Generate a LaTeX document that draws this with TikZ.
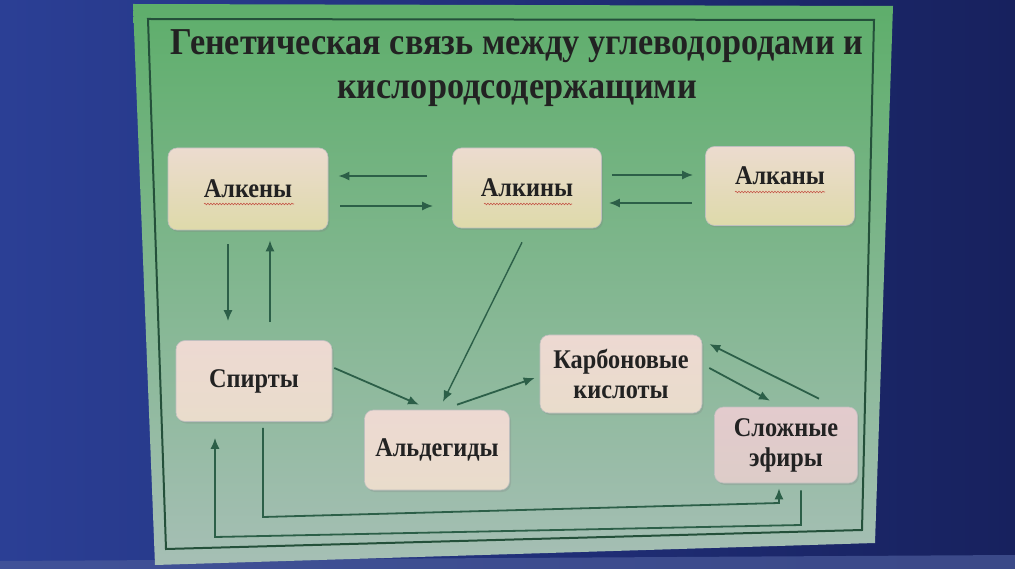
\documentclass[tikz,border=0pt]{standalone}
\usepackage{fontspec}
\setmainfont{Liberation Serif}
\newfontfamily\titlefont[FakeStretch=0.9]{Liberation Serif}
\newfontfamily\boxfont[FakeStretch=0.9]{Liberation Serif}
\usetikzlibrary{shadows,decorations.pathmorphing,arrows.meta}
\definecolor{bgL}{HTML}{2B3F95}
\definecolor{bgR}{HTML}{17215E}
\definecolor{slideT}{HTML}{5EAE6B}
\definecolor{slideM}{HTML}{7DBA96}
\definecolor{slideB}{HTML}{A6BFB5}
\definecolor{frame}{HTML}{24503A}
\definecolor{arr}{HTML}{2C5F48}
\definecolor{ink}{HTML}{222222}
\definecolor{yT}{HTML}{ECDBCF}
\definecolor{yB}{HTML}{DEDAAA}
\definecolor{pT}{HTML}{EDD9D2}
\definecolor{pB}{HTML}{E9DCCB}
\definecolor{sT}{HTML}{E3CBCD}
\definecolor{sB}{HTML}{DDCCC8}
\definecolor{band}{HTML}{4A5A9A}
\tikzset{
  box/.style={rounded corners=9pt, draw=black!25, line width=0.6pt,
    drop shadow={opacity=0.25, shadow xshift=1.5pt, shadow yshift=-2pt},
    text=ink, font=\boxfont\fontsize{27}{30}\selectfont\bfseries, align=center,
    minimum width=#1},
  ybox/.style={box=#1, top color=yT, bottom color=yB},
  pbox/.style={box=#1, top color=pT, bottom color=pB},
  sbox/.style={box=#1, top color=sT, bottom color=sB},
  con/.style={draw=arr, line width=1.8pt, -{Latex[length=11pt,width=9pt]}},
  squig/.style={draw=red!70!black, opacity=0.6, line width=0.6pt,
    decorate, decoration={snake, amplitude=0.8pt, segment length=3pt}}
}
\begin{document}
\begin{tikzpicture}[x=1pt,y=-1pt]
\useasboundingbox (0,0) rectangle (1015,569);
% screen background
\shade[left color=bgL, right color=bgR] (0,0) rectangle (1015,569);
\fill[band, opacity=0.7] (0,561) -- (1015,555) -- (1015,569) -- (0,569) -- cycle;
% slide
\shade[top color=slideT, middle color=slideM, bottom color=slideB] (133,4) -- (893,6) -- (875,543) -- (155,565) -- cycle;
% inner frame
\draw[frame, line width=2pt] (148,19) -- (874,20) -- (862,530) -- (166,549) -- cycle;
% title
\node[text=ink, font=\titlefont\fontsize{38}{44}\selectfont\bfseries, align=center] (title) at (517,68)
  {Генетическая связь между углеводородами и\\кислородсодержащими};
% boxes
\node[ybox=160pt, minimum height=82pt] (alkeny) at (248,189) {Алкены};
\node[ybox=149pt, minimum height=80pt] (alkiny) at (527,188) {Алкины};
\node[ybox=149pt, minimum height=79pt] (alkany) at (780,186) {\raisebox{20pt}{Алканы}};
\node[pbox=156pt, minimum height=81pt] (spirty) at (254,381) {Спирты};
\node[pbox=145pt, minimum height=80pt] (aldeg) at (437,450) {Альдегиды};
\node[pbox=162pt, minimum height=78pt] (karb) at (621,374) {Карбоновые\\кислоты};
\node[sbox=143pt, minimum height=76pt] (slozh) at (786,445) {Сложные\\эфиры};
% spell-check squiggles
\draw[squig] (204,204) -- (294,204);
\draw[squig] (484,204) -- (572,204);
\draw[squig] (735,192) -- (825,192);
% connectors
\draw[con] ([xshift=-25pt,yshift=12pt]alkiny.west) -- ([xshift=10pt,yshift=13pt]alkeny.east);
\draw[con] ([xshift=12pt,yshift=-17pt]alkeny.east) -- ([xshift=-19pt,yshift=-18pt]alkiny.west);
\draw[con] ([xshift=10pt,yshift=13pt]alkiny.east) -- ([xshift=-12pt,yshift=11pt]alkany.west);
\draw[con] ([xshift=-13pt,yshift=-17pt]alkany.west) -- ([xshift=7pt,yshift=-15pt]alkiny.east);
\draw[con] ([xshift=-20pt,yshift=-14pt]alkeny.south) -- ([xshift=-26pt,yshift=19pt]spirty.north);
\draw[con] ([xshift=16pt,yshift=18pt]spirty.north) -- ([xshift=22pt,yshift=-10pt]alkeny.south);
\draw[con, line width=1.4pt] ([xshift=-5pt,yshift=-14pt]alkiny.south) -- ([xshift=6pt,yshift=8pt]aldeg.north);
\draw[con] ([xshift=2pt,yshift=13pt]spirty.east) -- ([xshift=-18pt,yshift=5pt]aldeg.north);
\draw[con] ([xshift=20pt,yshift=5pt]aldeg.north) -- ([xshift=-5pt,yshift=-4pt]karb.west);
\draw[con] ([xshift=7pt,yshift=6pt]karb.east) -- ([xshift=-16pt,yshift=6pt]slozh.north);
\draw[con] ([xshift=33pt,yshift=8pt]slozh.north) -- ([xshift=7pt,yshift=30pt]karb.east);
\coordinate (a1) at (263,517);
\coordinate (a2) at (779,503);
\draw[con] ([xshift=9pt,yshift=-6pt]spirty.south) -- (a1) -- (a2) -- ([xshift=-7pt,yshift=-5pt]slozh.south);
\coordinate (b1) at (801,525);
\coordinate (b2) at (215,537);
\draw[con] ([xshift=15pt,yshift=-7pt]slozh.south) -- (b1) -- (b2) -- ([xshift=-39pt,yshift=-16pt]spirty.south);
\end{tikzpicture}
\end{document}
